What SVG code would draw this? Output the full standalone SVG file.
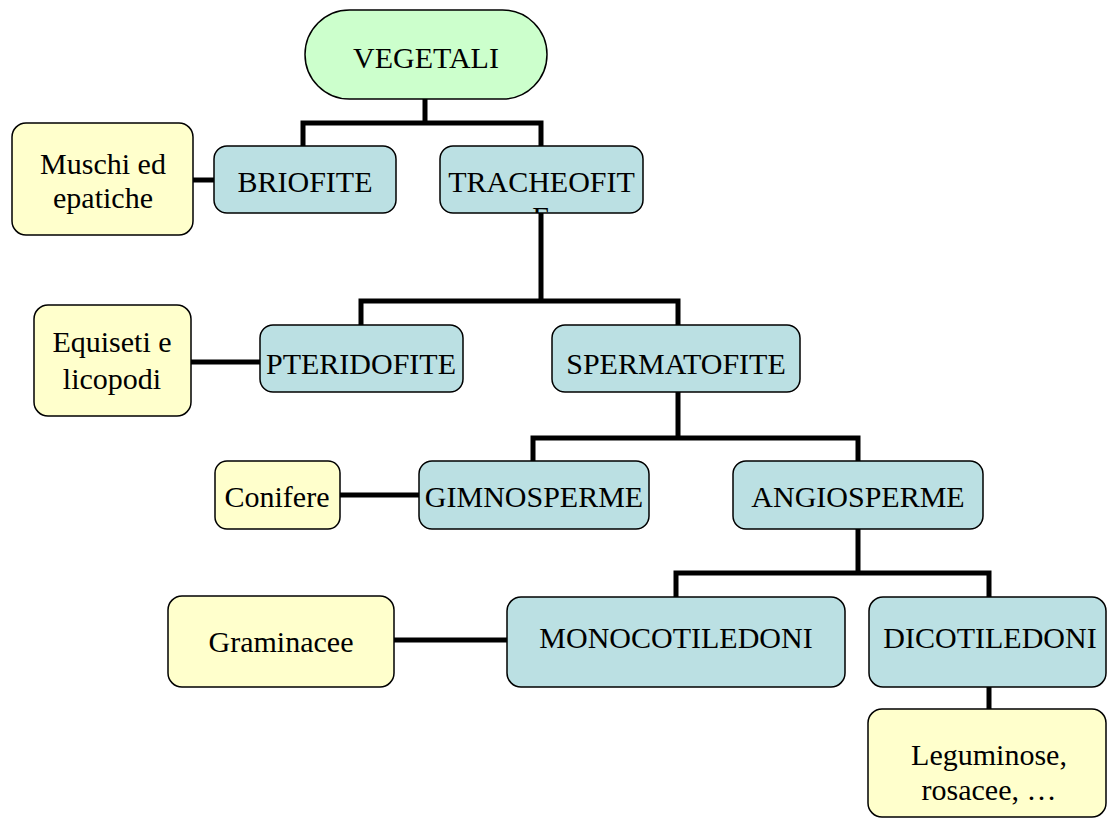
<svg xmlns="http://www.w3.org/2000/svg" width="1107" height="819" viewBox="0 0 1107 819">
<style>
.n rect{stroke:#000;stroke-width:1.5}
.g{fill:#ccffcc}
.b{fill:#bbe0e3}
.y{fill:#ffffcc}
text{font-family:"Liberation Serif","Times New Roman",serif;font-size:30px;fill:#000;text-anchor:middle}
#connectors path{fill:none;stroke:#000;stroke-width:5}
</style>
<defs>
<clipPath id="clipTr"><rect x="440" y="146" width="203" height="67" rx="13"/></clipPath>
</defs>
<rect width="1107" height="819" fill="#fff"/>
<g id="connectors">
<path d="M425 99V123M303 146V123H541V146"/>
<path d="M193 180H214"/>
<path d="M541 213V301M361 325V301H678V325"/>
<path d="M191 362H260"/>
<path d="M678 392V438M533 461V438H858V461"/>
<path d="M340 495H419"/>
<path d="M858 529V573M676 597V573H989V597"/>
<path d="M394 640H507"/>
<path d="M989 687V709"/>
</g>
<g id="vegetali" class="n"><rect class="g" x="305" y="10" width="242" height="89" rx="44.5"/><text x="426" y="68">VEGETALI</text></g>
<g id="muschi" class="n"><rect class="y" x="12" y="123" width="181" height="112" rx="14"/><text x="103" y="174">Muschi ed</text><text x="103" y="208">epatiche</text></g>
<g id="briofite" class="n"><rect class="b" x="214" y="146" width="182" height="67" rx="13"/><text x="305" y="192">BRIOFITE</text></g>
<g id="tracheofite" class="n"><rect class="b" x="440" y="146" width="203" height="67" rx="13"/><g clip-path="url(#clipTr)"><text x="541.5" y="192">TRACHEOFIT</text><text x="541.5" y="227">E</text></g></g>
<g id="equiseti" class="n"><rect class="y" x="34" y="305" width="157" height="111" rx="14"/><text x="112" y="352">Equiseti e</text><text x="112" y="389">licopodi</text></g>
<g id="pteridofite" class="n"><rect class="b" x="260" y="325" width="203" height="67" rx="13"/><text x="361" y="374">PTERIDOFITE</text></g>
<g id="spermatofite" class="n"><rect class="b" x="552" y="325" width="248" height="67" rx="13"/><text x="676" y="374">SPERMATOFITE</text></g>
<g id="conifere" class="n"><rect class="y" x="215" y="461" width="125" height="68" rx="12"/><text x="277" y="507">Conifere</text></g>
<g id="gimnosperme" class="n"><rect class="b" x="419" y="461" width="230" height="68" rx="13"/><text x="534" y="507">GIMNOSPERME</text></g>
<g id="angiosperme" class="n"><rect class="b" x="733" y="461" width="250" height="68" rx="13"/><text x="858" y="507">ANGIOSPERME</text></g>
<g id="graminacee" class="n"><rect class="y" x="168" y="596" width="226" height="91" rx="14"/><text x="281" y="652">Graminacee</text></g>
<g id="monocotiledoni" class="n"><rect class="b" x="507" y="597" width="338" height="90" rx="14"/><text x="676" y="648">MONOCOTILEDONI</text></g>
<g id="dicotiledoni" class="n"><rect class="b" x="869" y="597" width="237" height="90" rx="14"/><text x="990" y="648">DICOTILEDONI</text></g>
<g id="leguminose" class="n"><rect class="y" x="868" y="709" width="238" height="108" rx="14"/><text x="989" y="765">Leguminose,</text><text x="989" y="800">rosacee, …</text></g>
</svg>
